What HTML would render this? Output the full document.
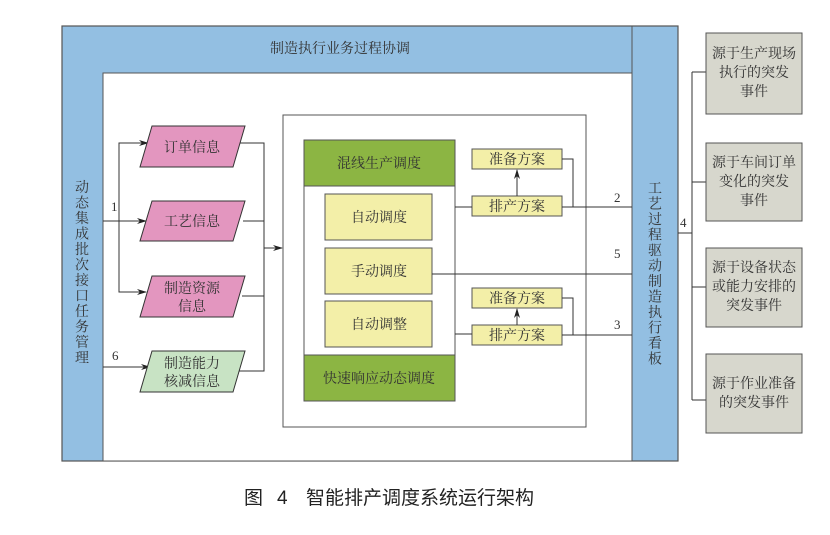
<!DOCTYPE html>
<html><head><meta charset="utf-8"><style>
html,body{margin:0;padding:0;background:#fff;}
svg{display:block;}
text{font-family:"Liberation Serif","Noto Serif CJK SC",serif;fill:#333;}
.cap{font-family:"Liberation Sans","Noto Sans CJK SC",sans-serif;fill:#222;}
</style></head><body>
<svg width="830" height="535" viewBox="0 0 830 535" xmlns="http://www.w3.org/2000/svg">
<defs><marker id="a" markerWidth="10" markerHeight="8" refX="9" refY="4" orient="auto" markerUnits="userSpaceOnUse"><path d="M0,1 L10,4 L0,7 L3,4 Z" fill="#222"/></marker></defs>
<rect x="62" y="26" width="616" height="435" fill="#93bfe2" stroke="#555" stroke-width="1.2"/>
<rect x="103" y="73" width="529" height="388" fill="#fff" stroke="#555" stroke-width="1"/>
<line x1="632" y1="26" x2="632" y2="461" stroke="#555"/>
<text x="340" y="53" font-size="14" text-anchor="middle">制造执行业务过程协调</text>
<text font-size="14" text-anchor="middle">
<tspan x="82" y="192">动</tspan><tspan x="82" dy="15.5">态</tspan><tspan x="82" dy="15.5">集</tspan><tspan x="82" dy="15.5">成</tspan><tspan x="82" dy="15.5">批</tspan><tspan x="82" dy="15.5">次</tspan><tspan x="82" dy="15.5">接</tspan><tspan x="82" dy="15.5">口</tspan><tspan x="82" dy="15.5">任</tspan><tspan x="82" dy="15.5">务</tspan><tspan x="82" dy="15.5">管</tspan><tspan x="82" dy="15.5">理</tspan></text>
<text font-size="14" text-anchor="middle">
<tspan x="655" y="193">工</tspan><tspan x="655" dy="15.5">艺</tspan><tspan x="655" dy="15.5">过</tspan><tspan x="655" dy="15.5">程</tspan><tspan x="655" dy="15.5">驱</tspan><tspan x="655" dy="15.5">动</tspan><tspan x="655" dy="15.5">制</tspan><tspan x="655" dy="15.5">造</tspan><tspan x="655" dy="15.5">执</tspan><tspan x="655" dy="15.5">行</tspan><tspan x="655" dy="15.5">看</tspan><tspan x="655" dy="15.5">板</tspan></text>
<g stroke="#333" stroke-width="1" fill="none">
<line x1="103" y1="221" x2="119" y2="221"/>
<polyline points="148,143 119,143 119,292 146,292" marker-end="url(#a)"/>
<line x1="119" y1="143" x2="148" y2="143" marker-end="url(#a)"/>
<line x1="119" y1="221" x2="146" y2="221" marker-end="url(#a)"/>
<line x1="103" y1="367" x2="150" y2="367" marker-end="url(#a)"/>
<polyline points="240,143 264,143 264,371 238,371"/>
<line x1="243" y1="221" x2="264" y2="221"/>
<line x1="242" y1="296" x2="264" y2="296"/>
<line x1="264" y1="248" x2="282" y2="248" marker-end="url(#a)"/>
</g>
<text x="111" y="211" font-size="13">1</text>
<text x="112" y="360" font-size="13">6</text>
<g stroke="#333" stroke-width="1">
<polygon points="152,126 245,126 233,167 140,167" fill="#e396bf"/>
<polygon points="152,201 245,201 233,241 140,241" fill="#e396bf"/>
<polygon points="152,276 245,276 233,317 140,317" fill="#e396bf"/>
<polygon points="152,351 245,351 233,392 140,392" fill="#c8e3c4"/>
</g>
<g font-size="14" text-anchor="middle">
<text x="192" y="152">订单信息</text>
<text x="192" y="226">工艺信息</text>
<text x="192" y="293">制造资源</text><text x="192" y="311">信息</text>
<text x="192" y="368">制造能力</text><text x="192" y="386">核减信息</text>
</g>
<rect x="283" y="115" width="303" height="312" fill="#fff" stroke="#555"/>
<rect x="304" y="140" width="151" height="261" fill="#fff" stroke="#555"/>
<rect x="304" y="140" width="151" height="46" fill="#8cb543" stroke="#555"/>
<rect x="304" y="355" width="151" height="46" fill="#8cb543" stroke="#555"/>
<g fill="#f3efa8" stroke="#555">
<rect x="325" y="194" width="107" height="46"/>
<rect x="325" y="248" width="107" height="46"/>
<rect x="325" y="301" width="107" height="46"/>
<rect x="472" y="149" width="90" height="20"/>
<rect x="472" y="196" width="90" height="20"/>
<rect x="472" y="288" width="90" height="20"/>
<rect x="472" y="325" width="90" height="20"/>
</g>
<g font-size="14" text-anchor="middle">
<text x="379" y="168">混线生产调度</text>
<text x="379" y="383">快速响应动态调度</text>
<text x="379" y="222">自动调度</text>
<text x="379" y="276">手动调度</text>
<text x="379" y="329">自动调整</text>
<text x="517" y="164">准备方案</text>
<text x="517" y="211">排产方案</text>
<text x="517" y="303">准备方案</text>
<text x="517" y="340">排产方案</text>
</g>
<g stroke="#333" stroke-width="1" fill="none">
<line x1="455" y1="207" x2="472" y2="207"/>
<line x1="455" y1="334" x2="472" y2="334"/>
<line x1="517" y1="196" x2="517" y2="170" marker-end="url(#a)"/>
<line x1="517" y1="325" x2="517" y2="309" marker-end="url(#a)"/>
<polyline points="562,159 573,159 573,207"/>
<polyline points="562,298 573,298 573,335"/>
<line x1="562" y1="207" x2="632" y2="207"/>
<line x1="562" y1="335" x2="632" y2="335"/>
<line x1="432" y1="274" x2="632" y2="274"/>
<line x1="678" y1="233" x2="692" y2="233"/>
<line x1="692" y1="72" x2="692" y2="400"/>
<line x1="692" y1="72" x2="706" y2="72"/>
<line x1="692" y1="182" x2="706" y2="182"/>
<line x1="692" y1="287" x2="706" y2="287"/>
<line x1="692" y1="400" x2="706" y2="400"/>
</g>
<text x="614" y="202" font-size="13">2</text>
<text x="614" y="258" font-size="13">5</text>
<text x="614" y="329" font-size="13">3</text>
<text x="680" y="227" font-size="13">4</text>
<g fill="#d7d7cd" stroke="#555">
<rect x="706" y="33" width="96" height="81"/>
<rect x="706" y="143" width="96" height="78"/>
<rect x="706" y="248" width="96" height="79"/>
<rect x="706" y="354" width="96" height="79"/>
</g>
<g font-size="14" text-anchor="middle">
<text x="754" y="58">源于生产现场</text><text x="754" y="77">执行的突发</text><text x="754" y="96">事件</text>
<text x="754" y="167">源于车间订单</text><text x="754" y="186">变化的突发</text><text x="754" y="205">事件</text>
<text x="754" y="272">源于设备状态</text><text x="754" y="291">或能力安排的</text><text x="754" y="310">突发事件</text>
<text x="754" y="388">源于作业准备</text><text x="754" y="407">的突发事件</text>
</g>
<text class="cap" x="244" y="504" font-size="19">图</text>
<text class="cap" x="277" y="504" font-size="19">4</text>
<text class="cap" x="306" y="504" font-size="19">智能排产调度系统运行架构</text>
</svg>
</body></html>
